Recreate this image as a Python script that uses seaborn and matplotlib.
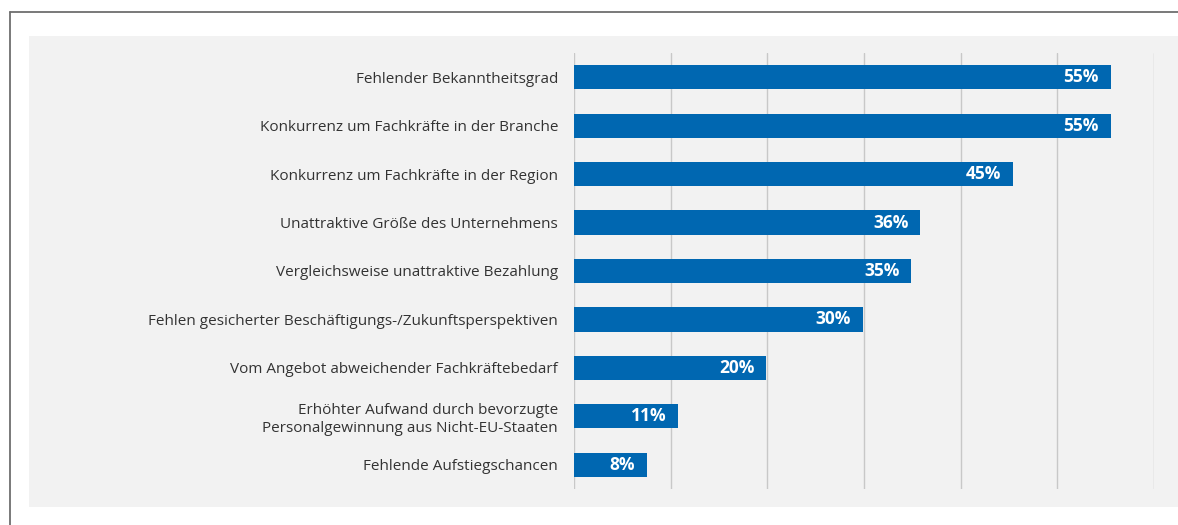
import matplotlib
matplotlib.use("Agg")
import matplotlib.pyplot as plt
import seaborn as sns
import pandas as pd
from matplotlib.patches import Rectangle
from matplotlib.lines import Line2D

# DATA
categories = [
    "Fehlender Bekanntheitsgrad",
    "Konkurrenz um Fachkräfte in der Branche",
    "Konkurrenz um Fachkräfte in der Region",
    "Unattraktive Größe des Unternehmens",
    "Vergleichsweise unattraktive Bezahlung",
    "Fehlen gesicherter Beschäftigungs-/Zukunftsperspektiven",
    "Vom Angebot abweichender Fachkräftebedarf",
    "Erhöhter Aufwand durch bevorzugte\nPersonalgewinnung aus Nicht-EU-Staaten",
    "Fehlende Aufstiegschancen",
]
values = [55.5, 55.5, 45.4, 35.8, 34.9, 29.9, 19.9, 10.8, 7.5]
value_labels = ["55%", "55%", "45%", "36%", "35%", "30%", "20%", "11%", "8%"]

df = pd.DataFrame({"category": categories, "value": values})

sns.set_theme(style="white")
plt.rcParams["font.family"] = ["Open Sans", "DejaVu Sans"]

fig = plt.figure(figsize=(11.78, 5.25), dpi=100)
W, H = 1178, 525

# grey panel and outer frame (behind the axes)
fig.patches.append(Rectangle((29 / W, (H - 507) / H), (W - 29) / W, (507 - 36) / H,
                             transform=fig.transFigure, facecolor="#f2f2f2",
                             edgecolor="none", zorder=-5))
fig.lines.append(Line2D([9.5 / W, 9.5 / W], [0, (H - 12) / H], transform=fig.transFigure,
                        color="#6e6e6e", lw=1.3, zorder=-5))
fig.lines.append(Line2D([9.5 / W, 1], [(H - 12) / H, (H - 12) / H], transform=fig.transFigure,
                        color="#6e6e6e", lw=1.3, zorder=-5))

ax = fig.add_axes([574 / W, (H - 489) / H, (1154 - 574) / W, (489 - 53) / H])
ax.set_facecolor("none")

sns.barplot(data=df, x="value", y="category", color="#0067b1", saturation=1,
            width=0.5, linewidth=0, ax=ax, zorder=3)

ax.set_xlim(0, 60)
ax.set_ylim(8.5, -0.5)
ax.set_xticks(range(0, 61, 10))
ax.xaxis.grid(True, color="#c8c8c8", lw=1.0)
ax.set_axisbelow(True)
ax.tick_params(axis="x", bottom=False, labelbottom=False)
ax.tick_params(axis="y", left=False, length=0, pad=11.5, labelsize=11,
               labelcolor="#333333")
for lbl in ax.get_yticklabels():
    lbl.set_linespacing(1.2)
ax.set_xlabel("")
ax.set_ylabel("")
for s in ax.spines.values():
    s.set_visible(False)

for i, (v, t) in enumerate(zip(values, value_labels)):
    ax.annotate(t, (v, i), xytext=(-8.5, 0), textcoords="offset points",
                ha="right", va="center", color="white", fontsize=12.5,
                fontweight="bold", zorder=4)

fig.savefig("out.png", dpi=100)
